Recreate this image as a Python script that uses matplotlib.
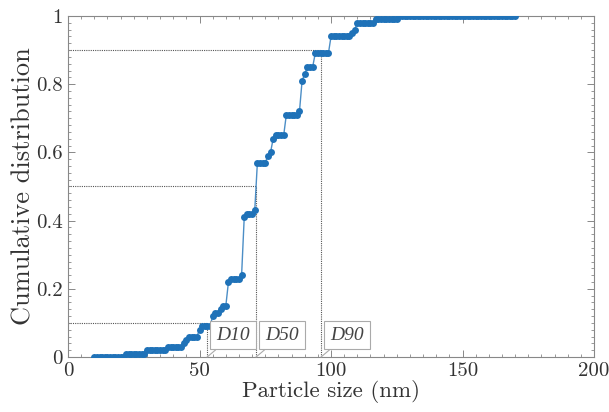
"""Cumulative particle size distribution with D10/D50/D90 markers."""
import matplotlib
matplotlib.use('Agg')
import matplotlib.pyplot as plt
from matplotlib.ticker import MultipleLocator, FuncFormatter

plt.rcParams['font.family'] = ['cmr10', 'DejaVu Serif']
plt.rcParams['mathtext.fontset'] = 'cm'
plt.rcParams['axes.formatter.use_mathtext'] = True

# particle size grid (nm), one point per nm from 10 to 170
size_nm = list(range(10, 171))
cdf = (
    [0.00] * 12                                   # 10-21
    + [0.01] * 8                                  # 22-29
    + [0.02] * 8                                  # 30-37
    + [0.03] * 6                                  # 38-43
    + [0.04, 0.05, 0.06, 0.06, 0.06, 0.06]        # 44-49
    + [0.08, 0.09, 0.09, 0.09, 0.09]              # 50-54
    + [0.12, 0.13, 0.13, 0.14, 0.15, 0.15]        # 55-60
    + [0.22, 0.23, 0.23, 0.23, 0.23, 0.24]        # 61-66
    + [0.41, 0.42, 0.42, 0.42, 0.43]              # 67-71
    + [0.57, 0.57, 0.57, 0.57, 0.59, 0.60]        # 72-77
    + [0.64, 0.65, 0.65, 0.65, 0.65]              # 78-82
    + [0.71, 0.71, 0.71, 0.71, 0.71, 0.72]        # 83-88
    + [0.81, 0.83, 0.85, 0.85, 0.85]              # 89-93
    + [0.89] * 6                                  # 94-99
    + [0.94] * 8                                  # 100-107
    + [0.95, 0.96, 0.98]                          # 108-110
    + [0.98] * 6                                  # 111-116
    + [0.99] * 9                                  # 117-125
    + [1.00] * 45                                 # 126-170
)

d_names = ['D10', 'D50', 'D90']
d_levels = [0.1, 0.5, 0.9]
d_sizes = [52.9, 71.5, 96.2]

blue = '#1f72b8'
grey = '#888888'

fig = plt.figure(figsize=(6.09, 4.12), dpi=100)
ax = fig.add_axes([0.1117, 0.1335, 0.8637, 0.8277])

# guide lines for D values
for lvl, d in zip(d_levels, d_sizes):
    ax.plot([0, d], [lvl, lvl], color='#555555', ls=(0, (1, 1)), lw=0.8, zorder=1)
    ax.plot([d, d], [0, lvl], color='#555555', ls=(0, (1, 1)), lw=0.8, zorder=1)

ax.plot(size_nm, cdf, color=blue, lw=1.0, alpha=0.8, zorder=2)
ax.plot(size_nm, cdf, ls='none', marker='o', ms=5.0, color=blue,
        markeredgewidth=0, zorder=3)

# boxed labels with leader lines
for name, d in zip(d_names, d_sizes):
    ax.annotate(name, xy=(d, 0), xytext=(6.6, 9.6), textcoords='offset points',
                ha='left', va='bottom', fontsize=14, color='#444444',
                family=['Liberation Serif'], style='italic',
                bbox=dict(boxstyle='square,pad=0.3', fc='white', ec='#aaaaaa', lw=0.8),
                arrowprops=dict(arrowstyle='-', color='#aaaaaa', lw=0.8,
                                shrinkA=0, shrinkB=0),
                zorder=4)

ax.set_xlim(0, 200)
ax.set_ylim(0, 1)
ax.xaxis.set_major_locator(MultipleLocator(50))
ax.xaxis.set_minor_locator(MultipleLocator(5))
ax.yaxis.set_major_locator(MultipleLocator(0.2))
ax.yaxis.set_minor_locator(MultipleLocator(0.02))
fmt = FuncFormatter(lambda v, p: f'{v:g}')
ax.xaxis.set_major_formatter(fmt)
ax.yaxis.set_major_formatter(fmt)

ax.tick_params(which='both', direction='in', top=True, right=True,
               color=grey, labelsize=15, labelcolor='#333333')
ax.tick_params(which='major', length=5, width=0.7, pad=4)
ax.tick_params(which='minor', length=2.5, width=0.6)
for sp in ax.spines.values():
    sp.set_color(grey)
    sp.set_linewidth(0.8)

ax.set_xlabel('Particle size (nm)', fontsize=16.5, color='#333333', labelpad=0)
ax.set_ylabel('Cumulative distribution', fontsize=19, color='#333333', labelpad=0)

fig.savefig('out.png', dpi=100)
